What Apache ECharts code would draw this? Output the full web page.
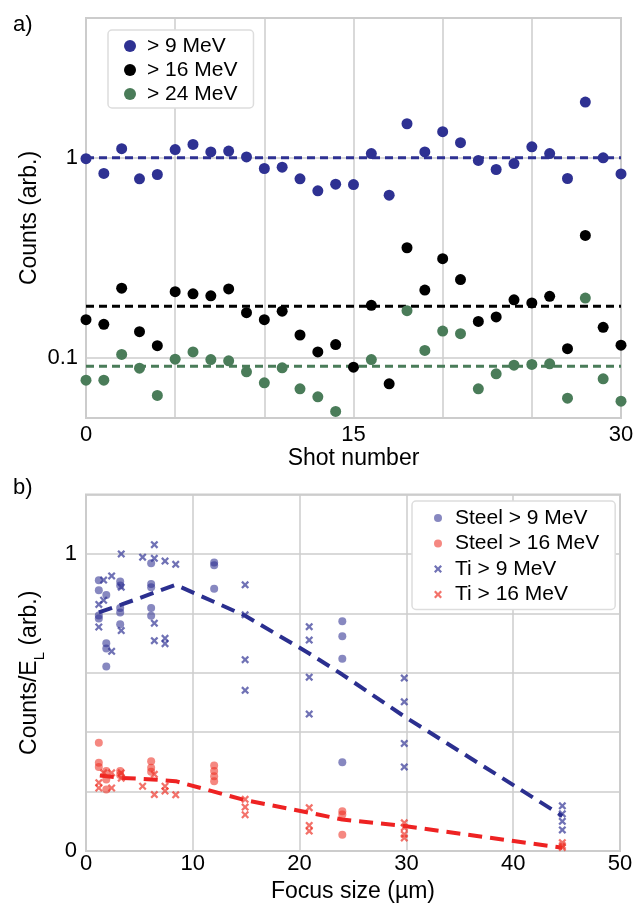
<!DOCTYPE html>
<html>
<head>
    <meta charset="utf-8">
    <title>Counts vs shot number and focus size</title>
    <script src="https://cdn.jsdelivr.net/npm/echarts@6/dist/echarts.min.js"></script>
    <style>
        html, body { margin: 0; padding: 0; background: #fff; }
    </style>
</head>
<body>
<div id="main" style="width: 638px;height:904px;"></div>

<script type="text/javascript">
    // ---------- panel a) : counts per shot (log axis) ----------
    let shots = [];
    for (let i = 0; i <= 30; i++) shots.push(i);

    let above9 = [0.99, 0.835, 1.11, 0.785, 0.825, 1.10, 1.166, 1.07, 1.08, 1.01, 0.884,
        0.897, 0.785, 0.684, 0.738, 0.735, 1.05, 0.65, 1.48, 1.07, 1.35,
        1.19, 0.97, 0.874, 0.936, 1.135, 1.05, 0.788, 1.90, 1.0, 0.83];
    let above16 = [0.155, 0.147, 0.223, 0.135, 0.115, 0.214, 0.209, 0.204, 0.221, 0.168, 0.155,
        0.171, 0.130, 0.107, 0.1165, 0.0898, 0.183, 0.0741, 0.355, 0.218, 0.313,
        0.246, 0.152, 0.160, 0.195, 0.188, 0.203, 0.111, 0.409, 0.142, 0.1156];
    let above24 = [0.0773, 0.0773, 0.104, 0.0887, 0.0648, 0.0984, 0.107, 0.098, 0.0966, 0.0851, 0.075,
        0.0891, 0.070, 0.0638, 0.0539, null, 0.098, null, 0.172, 0.1088, 0.136,
        0.132, 0.070, 0.0832, 0.0918, 0.0926, 0.0933, 0.0628, 0.199, 0.0785, 0.0607];
    // mean levels (dashed lines)
    let meanA = [1.0, 0.181, 0.0908];
    let namesA = ['> 9 MeV', '> 16 MeV', '> 24 MeV'];
    let colorsA = ['#2e3192', '#000000', '#4a7c59'];
    let shotTicks = ['0', '15', '30'];

    // ---------- panel b) : counts / E_L vs focus size ----------
    let steel9 = [
        [1.2, 0.911], [1.2, 0.878], [1.2, 0.793], [1.2, 0.783],
        [1.9, 0.862], [1.9, 0.699], [1.9, 0.682], [1.9, 0.621],
        [3.2, 0.907], [3.2, 0.894], [3.2, 0.818], [3.2, 0.803], [3.2, 0.763],
        [6.1, 0.969], [6.1, 0.899], [6.1, 0.888], [6.1, 0.818], [6.1, 0.792],
        [12.0, 0.971], [12.0, 0.962], [12.0, 0.883],
        [24.0, 0.773], [24.0, 0.723], [24.0, 0.647], [24.0, 0.299]
    ];
    let steel16 = [
        [1.2, 0.364], [1.2, 0.297], [1.2, 0.283],
        [1.9, 0.269], [1.9, 0.241], [1.9, 0.207],
        [3.2, 0.269], [3.2, 0.256],
        [6.1, 0.302], [6.1, 0.280], [6.1, 0.267],
        [12.0, 0.288], [12.0, 0.269], [12.0, 0.252], [12.0, 0.235],
        [24.0, 0.134], [24.0, 0.123], [24.0, 0.055]
    ];
    let ti9 = [
        [1.2, 0.830], [1.2, 0.754], [1.65, 0.912], [1.65, 0.844],
        [2.4, 0.926], [2.4, 0.672],
        [3.3, 1.000], [3.3, 0.888], [3.3, 0.742],
        [5.3, 0.989],
        [6.4, 1.031], [6.4, 0.985], [6.4, 0.767], [6.4, 0.708],
        [7.4, 0.976], [7.4, 0.716], [7.4, 0.698],
        [8.4, 0.965],
        [14.9, 0.896], [14.9, 0.795], [14.9, 0.644], [14.9, 0.541],
        [20.9, 0.755], [20.9, 0.710], [20.9, 0.585], [20.9, 0.461],
        [29.8, 0.582], [29.8, 0.502], [29.8, 0.362], [29.8, 0.283],
        [44.6, 0.152], [44.6, 0.125], [44.6, 0.100], [44.6, 0.071]
    ];
    let ti16 = [
        [1.2, 0.230], [1.2, 0.212], [1.65, 0.263],
        [2.4, 0.263], [2.4, 0.212],
        [3.3, 0.263], [3.3, 0.245],
        [5.3, 0.218],
        [6.4, 0.258], [6.4, 0.190],
        [7.4, 0.218], [7.4, 0.202],
        [8.4, 0.189],
        [14.9, 0.174], [14.9, 0.148], [14.9, 0.122],
        [20.9, 0.146], [20.9, 0.086], [20.9, 0.067],
        [29.8, 0.095], [29.8, 0.079], [29.8, 0.056], [29.8, 0.044],
        [44.6, 0.028], [44.6, 0.018], [44.6, 0.012]
    ];
    let mean9 = [[1.2, 0.803], [3.3, 0.829], [8.4, 0.896], [14.9, 0.792], [20.9, 0.665],
        [24.0, 0.594], [29.8, 0.453], [44.6, 0.118]];
    let mean16 = [[1.3, 0.254], [3.3, 0.246], [6.2, 0.241], [8.4, 0.235], [14.9, 0.171],
        [20.9, 0.129], [24.0, 0.106], [29.8, 0.084], [44.6, 0.011]];
    let namesB = ['Steel > 9 MeV', 'Steel > 16 MeV', 'Ti > 9 MeV', 'Ti > 16 MeV'];
    let focusTicks = [0, 10, 20, 30, 40, 50];

    const FONT = "'Liberation Sans', Arial, sans-serif";
    const GRIDC = '#cccccc';
    const CROSS = 'path://M0,2 L2,0 L5,3 L8,0 L10,2 L7,5 L10,8 L8,10 L5,7 L2,10 L0,8 L3,5 Z';

    let myChart = echarts.init(document.getElementById('main'));

    let seriesList = [];
    // dashed mean lines, panel a
    meanA.forEach((m, i) => {
        seriesList.push({
            type: 'line', xAxisIndex: 0, yAxisIndex: 0,
            data: [[0, m], [30, m]],
            symbol: 'none', silent: true, z: 1,
            lineStyle: { color: colorsA[i], width: 3, type: [8, 5] }
        });
    });
    [above9, above16, above24].forEach((arr, i) => {
        seriesList.push({
            name: namesA[i], type: 'scatter', xAxisIndex: 0, yAxisIndex: 0,
            data: shots.map((s, k) => arr[k] == null ? [s, '-'] : [s, arr[k]]),
            symbol: 'circle', symbolSize: 11, z: 3,
            itemStyle: { color: colorsA[i], opacity: 1 }
        });
    });

    // panel b
    seriesList.push({
        type: 'line', xAxisIndex: 1, yAxisIndex: 1, data: mean9,
        symbol: 'none', silent: true, z: 1,
        lineStyle: { color: '#2b2f8f', width: 4, type: [14, 8] }
    });
    seriesList.push({
        type: 'line', xAxisIndex: 1, yAxisIndex: 1, data: mean16,
        symbol: 'none', silent: true, z: 1,
        lineStyle: { color: '#ee2222', width: 4, type: [14, 8] }
    });
    seriesList.push({
        name: namesB[0], type: 'scatter', xAxisIndex: 1, yAxisIndex: 1, data: steel9,
        symbol: 'circle', symbolSize: 8, z: 2,
        itemStyle: { color: 'rgba(46,49,146,0.72)' }
    });
    seriesList.push({
        name: namesB[1], type: 'scatter', xAxisIndex: 1, yAxisIndex: 1, data: steel16,
        symbol: 'circle', symbolSize: 8, z: 2,
        itemStyle: { color: 'rgba(238,49,36,0.72)' }
    });
    seriesList.push({
        name: namesB[2], type: 'scatter', xAxisIndex: 1, yAxisIndex: 1, data: ti9,
        symbol: CROSS, symbolSize: 8, z: 2,
        itemStyle: { color: 'rgba(46,49,146,0.85)' }
    });
    seriesList.push({
        name: namesB[3], type: 'scatter', xAxisIndex: 1, yAxisIndex: 1, data: ti16,
        symbol: CROSS, symbolSize: 8, z: 2,
        itemStyle: { color: 'rgba(238,49,36,0.85)' }
    });

    let axisText = { color: '#000', fontSize: 22, fontFamily: FONT };
    let nameText = { color: '#000', fontSize: 23, fontFamily: FONT };

    let option = {
        animation: false,
        backgroundColor: '#fff',
        textStyle: { fontFamily: FONT },
        title: [
            { text: 'a)', left: 8, top: 9, textStyle: { fontSize: 22, fontWeight: 'normal', color: '#000', fontFamily: FONT } },
            { text: 'b)', left: 8, top: 472, textStyle: { fontSize: 22, fontWeight: 'normal', color: '#000', fontFamily: FONT } }
        ],
        legend: [
            {
                data: namesA, orient: 'vertical', left: 108, top: 30,
                padding: [5, 16, 3, 16], itemGap: 2,
                itemWidth: 12, itemHeight: 12,
                backgroundColor: '#fff', borderColor: '#dddddd', borderWidth: 1.5, borderRadius: 4,
                textStyle: { color: '#000', fontSize: 21, fontFamily: FONT, lineHeight: 22, padding: [0, 0, 0, 6] }
            },
            {
                data: namesB, orient: 'vertical', left: 412, top: 501,
                padding: [6, 16, 4, 22], itemGap: 3.5,
                itemWidth: 8, itemHeight: 8,
                backgroundColor: '#fff', borderColor: '#dddddd', borderWidth: 1.5, borderRadius: 4,
                textStyle: { color: '#000', fontSize: 21, fontFamily: FONT, lineHeight: 22, padding: [0, 0, 0, 8] }
            }
        ],
        grid: [
            { left: 86, right: 17, top: 18, height: 400, show: true, borderColor: GRIDC, borderWidth: 2, backgroundColor: '#fff' },
            { left: 86, right: 18, top: 494.5, height: 357.5, show: true, borderColor: GRIDC, borderWidth: 2, backgroundColor: '#fff' }
        ],
        xAxis: [
            {
                gridIndex: 0, type: 'value', min: 0, max: 30, interval: 5,
                name: 'Shot number', nameLocation: 'middle', nameGap: 28, nameTextStyle: nameText,
                axisLine: { show: false }, axisTick: { show: false },
                splitLine: { show: true, lineStyle: { color: GRIDC, width: 1.5 } },
                axisLabel: Object.assign({
                    margin: 6,
                    formatter: v => shotTicks.indexOf(String(v)) >= 0 ? String(v) : ''
                }, axisText)
            },
            {
                gridIndex: 1, type: 'value', min: 0, max: 50, interval: 10,
                name: 'Focus size (µm)', nameLocation: 'middle', nameGap: 29, nameTextStyle: nameText,
                axisLine: { show: false }, axisTick: { show: false },
                splitLine: { show: true, lineStyle: { color: GRIDC, width: 1.5 } },
                axisLabel: Object.assign({
                    margin: 2,
                    formatter: v => focusTicks.indexOf(v) >= 0 ? String(v) : ''
                }, axisText)
            }
        ],
        yAxis: [
            {
                gridIndex: 0, type: 'log', logBase: 10, min: 0.05, max: 5,
                name: 'Counts (arb.)', nameLocation: 'middle', nameGap: 45, nameMoveOverlap: false,
                nameTextStyle: nameText,
                axisLine: { show: false }, axisTick: { show: false },
                splitLine: { show: true, lineStyle: { color: GRIDC, width: 1.5 } },
                axisLabel: Object.assign({
                    margin: 8,
                    formatter: v => Math.abs(v - 1) < 1e-6 ? '1' : (Math.abs(v - 0.1) < 1e-7 ? '0.1' : '')
                }, axisText)
            },
            {
                gridIndex: 1, type: 'value', min: 0, max: 1.2, interval: 0.2,
                name: 'Counts/E{sub|L} (arb.)', nameLocation: 'middle', nameGap: 45, nameMoveOverlap: false,
                nameTextStyle: Object.assign({
                    rich: { sub: { fontSize: 15, fontFamily: FONT, color: '#000', verticalAlign: 'bottom', padding: [0, 0, -6, 0] } }
                }, nameText),
                axisLine: { show: false }, axisTick: { show: false },
                splitLine: { show: true, lineStyle: { color: GRIDC, width: 1.5 } },
                axisLabel: Object.assign({
                    margin: 9,
                    formatter: v => Math.abs(v) < 1e-9 ? '0' : (Math.abs(v - 1) < 1e-9 ? '1' : '')
                }, axisText)
            }
        ],
        series: seriesList
    };
    myChart.setOption(option);
</script>
</body>
</html>
